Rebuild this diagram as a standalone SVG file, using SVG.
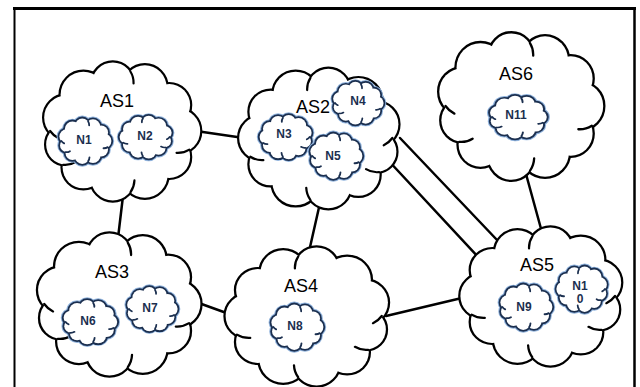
<svg xmlns="http://www.w3.org/2000/svg" xmlns:xlink="http://www.w3.org/1999/xlink" width="640" height="387" viewBox="0 0 640 387">
  <style>
    .frame { stroke: #000; fill: none; }
    .link { stroke: #000; stroke-width: 2.5; fill: none; stroke-linecap: round; }
    .big-edge { fill: #fff; stroke: #000; stroke-width: 4.4; }
    .big-fill { fill: #fff; stroke: none; }
    .big-curl { fill: none; stroke: #000; stroke-width: 2.2; stroke-linecap: round; }
    .sm-halo { fill: #fff; stroke: #8fb2dc; stroke-width: 17; }
    .sm-edge { fill: #fff; stroke: #1b2f4f; stroke-width: 11; }
    .sm-fill { fill: #fff; stroke: none; }
    .sm-curl { fill: none; stroke: #1b2f4f; stroke-width: 5.5; stroke-linecap: round; }
    .as { font-family: "Liberation Sans", Arial, sans-serif; font-size: 18px; fill: #000; text-anchor: middle; }
    .n { font-family: "Liberation Sans", Arial, sans-serif; font-size: 12px; font-weight: bold; fill: #1b2f4f; text-anchor: middle; }
  </style>
  <defs>
    <!-- cloud body: union of overlapping discs around an ellipse (about 158 x 138 units) -->
    <g id="blob">
      <circle cx="58" cy="0" r="22"/>
      <circle cx="48.8" cy="25.9" r="21"/>
      <circle cx="24.1" cy="43.7" r="23"/>
      <circle cx="-8.3" cy="47.5" r="22"/>
      <circle cx="-38" cy="36.3" r="21"/>
      <circle cx="-55.6" cy="13.5" r="20"/>
      <circle cx="-55.6" cy="-13.5" r="22"/>
      <circle cx="-38" cy="-36.3" r="23"/>
      <circle cx="-8.3" cy="-47.5" r="21"/>
      <circle cx="24.1" cy="-43.7" r="22"/>
      <circle cx="48.8" cy="-25.9" r="21"/>
      <ellipse cx="0" cy="0" rx="58" ry="48"/>
    </g>
    <!-- small inner hooks where the bumps meet -->
    <path id="curls" d="M -71.6 0 A 22 22 0 0 0 -63.1 7.2
                        M 9.7 61 A 22 22 0 0 0 13.6 49.4
                        M 69 18.6 A 22 22 0 0 1 56.1 21.9
                        M 9.5 -59.5 A 21 21 0 0 1 12.7 -47.5
                        M -58.4 33.8 A 20 20 0 0 0 -45.6 30.8"/>
  </defs>

  <!-- frame -->
  <g id="frame">
    <line class="frame" x1="13" y1="8.5" x2="636" y2="8.5" stroke-width="3"/>
    <line class="frame" x1="14.5" y1="8" x2="14.5" y2="387" stroke-width="2"/>
    <line class="frame" x1="634.5" y1="8" x2="634.5" y2="387" stroke-width="2.5"/>
  </g>

  <!-- connectors -->
  <g id="connectors">
    <line class="link" x1="196" y1="131" x2="244" y2="138"/>
    <line class="link" x1="123" y1="196" x2="118" y2="238"/>
    <line class="link" x1="320" y1="203" x2="308" y2="256"/>
    <line class="link" x1="196" y1="302" x2="232" y2="315"/>
    <line class="link" x1="386" y1="316" x2="466" y2="297"/>
    <line class="link" x1="526" y1="174" x2="543" y2="236"/>
    <line class="link" x1="400" y1="138" x2="498" y2="241"/>
    <line class="link" x1="386" y1="158" x2="480" y2="259"/>
  </g>

  <!-- AS1 -->
  <g id="as1">
    <g transform="translate(121 131) scale(0.99 1)">
      <use xlink:href="#blob" class="big-edge"/>
      <use xlink:href="#blob" class="big-fill"/>
      <use xlink:href="#curls" class="big-curl"/>
    </g>
    <text class="as" x="117" y="107">AS1</text>
    <g id="n1" transform="translate(85 141) scale(0.33)">
      <use xlink:href="#blob" class="sm-halo"/>
      <use xlink:href="#blob" class="sm-edge"/>
      <use xlink:href="#blob" class="sm-fill"/>
      <use xlink:href="#curls" class="sm-curl"/>
    </g>
    <text class="n" x="84" y="144">N1</text>
    <g id="n2" transform="translate(146 137) scale(-0.33 0.31)">
      <use xlink:href="#blob" class="sm-halo"/>
      <use xlink:href="#blob" class="sm-edge"/>
      <use xlink:href="#blob" class="sm-fill"/>
      <use xlink:href="#curls" class="sm-curl"/>
    </g>
    <text class="n" x="145" y="140">N2</text>
  </g>

  <!-- AS2 -->
  <g id="as2">
    <g transform="translate(320 138) scale(-1.01 1.01)">
      <use xlink:href="#blob" class="big-edge"/>
      <use xlink:href="#blob" class="big-fill"/>
      <use xlink:href="#curls" class="big-curl"/>
    </g>
    <text class="as" x="313" y="113">AS2</text>
    <g id="n4" transform="translate(358 103) scale(0.32 0.31)">
      <use xlink:href="#blob" class="sm-halo"/>
      <use xlink:href="#blob" class="sm-edge"/>
      <use xlink:href="#blob" class="sm-fill"/>
      <use xlink:href="#curls" class="sm-curl"/>
    </g>
    <text class="n" x="358" y="105">N4</text>
    <g id="n3" transform="translate(286 137) scale(-0.33 0.32)">
      <use xlink:href="#blob" class="sm-halo"/>
      <use xlink:href="#blob" class="sm-edge"/>
      <use xlink:href="#blob" class="sm-fill"/>
      <use xlink:href="#curls" class="sm-curl"/>
    </g>
    <text class="n" x="284" y="138">N3</text>
    <g id="n5" transform="translate(336 156) scale(0.33)">
      <use xlink:href="#blob" class="sm-halo"/>
      <use xlink:href="#blob" class="sm-edge"/>
      <use xlink:href="#blob" class="sm-fill"/>
      <use xlink:href="#curls" class="sm-curl"/>
    </g>
    <text class="n" x="333" y="160">N5</text>
  </g>

  <!-- AS6 -->
  <g id="as6">
    <g transform="translate(520 106) scale(1.04 1.06)">
      <use xlink:href="#blob" class="big-edge"/>
      <use xlink:href="#blob" class="big-fill"/>
      <use xlink:href="#curls" class="big-curl"/>
    </g>
    <text class="as" x="516" y="80">AS6</text>
    <g id="n11" transform="translate(518 117) scale(0.36 0.31)">
      <use xlink:href="#blob" class="sm-halo"/>
      <use xlink:href="#blob" class="sm-edge"/>
      <use xlink:href="#blob" class="sm-fill"/>
      <use xlink:href="#curls" class="sm-curl"/>
    </g>
    <text class="n" x="516" y="119">N11</text>
  </g>

  <!-- AS3 -->
  <g id="as3">
    <g transform="translate(118 304) scale(1.03 1.03)">
      <use xlink:href="#blob" class="big-edge"/>
      <use xlink:href="#blob" class="big-fill"/>
      <use xlink:href="#curls" class="big-curl"/>
    </g>
    <text class="as" x="112" y="278">AS3</text>
    <g id="n6" transform="translate(90 322) scale(0.34 0.32)">
      <use xlink:href="#blob" class="sm-halo"/>
      <use xlink:href="#blob" class="sm-edge"/>
      <use xlink:href="#blob" class="sm-fill"/>
      <use xlink:href="#curls" class="sm-curl"/>
    </g>
    <text class="n" x="88" y="325">N6</text>
    <g id="n7" transform="translate(152 309) scale(0.32 0.32)">
      <use xlink:href="#blob" class="sm-halo"/>
      <use xlink:href="#blob" class="sm-edge"/>
      <use xlink:href="#blob" class="sm-fill"/>
      <use xlink:href="#curls" class="sm-curl"/>
    </g>
    <text class="n" x="150" y="312">N7</text>
  </g>

  <!-- AS4 -->
  <g id="as4">
    <g transform="translate(308 316) scale(-1.03 1)">
      <use xlink:href="#blob" class="big-edge"/>
      <use xlink:href="#blob" class="big-fill"/>
      <use xlink:href="#curls" class="big-curl"/>
    </g>
    <text class="as" x="301" y="292">AS4</text>
    <g id="n8" transform="translate(297 327) scale(0.33 0.33)">
      <use xlink:href="#blob" class="sm-halo"/>
      <use xlink:href="#blob" class="sm-edge"/>
      <use xlink:href="#blob" class="sm-fill"/>
      <use xlink:href="#curls" class="sm-curl"/>
    </g>
    <text class="n" x="295" y="330">N8</text>
  </g>

  <!-- AS5 -->
  <g id="as5">
    <g transform="translate(542 296) scale(-1.02 1)">
      <use xlink:href="#blob" class="big-edge"/>
      <use xlink:href="#blob" class="big-fill"/>
      <use xlink:href="#curls" class="big-curl"/>
    </g>
    <text class="as" x="537" y="271">AS5</text>
    <g id="n9" transform="translate(526 307) scale(0.33 0.33)">
      <use xlink:href="#blob" class="sm-halo"/>
      <use xlink:href="#blob" class="sm-edge"/>
      <use xlink:href="#blob" class="sm-fill"/>
      <use xlink:href="#curls" class="sm-curl"/>
    </g>
    <text class="n" x="524" y="311">N9</text>
    <g id="n10" transform="translate(582 289) scale(-0.32 0.33)">
      <use xlink:href="#blob" class="sm-halo"/>
      <use xlink:href="#blob" class="sm-edge"/>
      <use xlink:href="#blob" class="sm-fill"/>
      <use xlink:href="#curls" class="sm-curl"/>
    </g>
    <text class="n" x="580" y="290">N1</text>
    <text class="n" x="580" y="303">0</text>
  </g>
</svg>
